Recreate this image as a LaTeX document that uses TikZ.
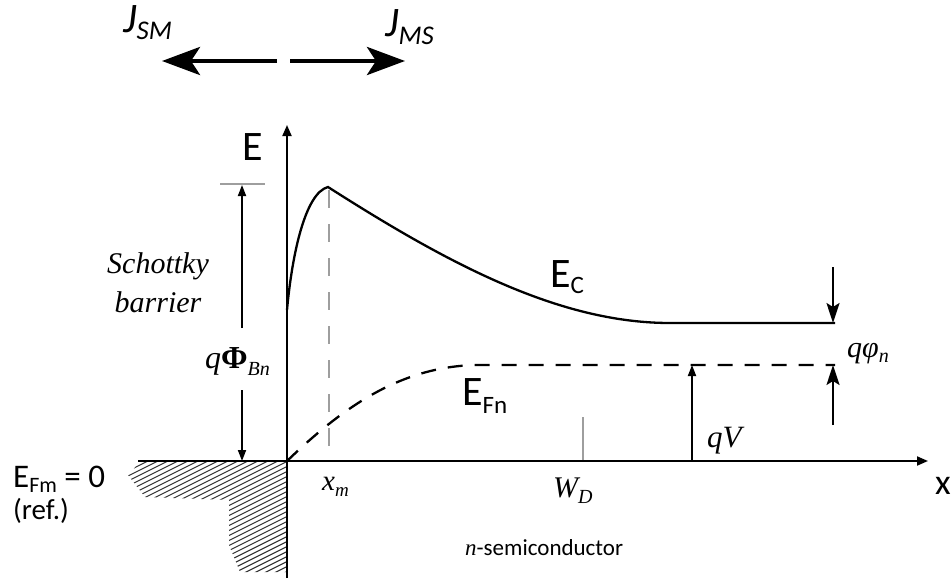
\documentclass[tikz,border=0pt]{standalone}
\usepackage{fontspec}
\setmainfont{Carlito}
\newfontfamily\tms{Liberation Serif}
\usetikzlibrary{arrows.meta}
\newcommand\fs[1]{\fontsize{#1}{#1}\selectfont}
\newcommand\dn[3]{\raisebox{-#1pt}{\fs{#2}#3}}
\begin{document}
\begin{tikzpicture}[x=1pt,y=-1pt,
  txt/.style={inner sep=0pt,anchor=base west},
  axis/.style={line width=1.9pt,-{Triangle[length=11pt,width=9pt]}},
  curve/.style={line width=2.3pt},
  fermi/.style={line width=2.3pt,dash pattern=on 15pt off 12pt},
  guide/.style={line width=1.9pt,color=black!38},
  guidedash/.style={guide,dash pattern=on 18pt off 16pt},
  marker/.style={line width=1.8pt,-{Triangle[length=11pt,width=8pt]}},
  bigmark/.style={line width=2pt,-{Stealth[length=20pt,width=13pt,inset=4pt]}},
  flux/.style={line width=4.5pt,-{Stealth[length=38pt,width=28pt,inset=9pt]}},
  hatch/.style={line width=1.1pt,color=black!80}]
\useasboundingbox (0,0) rectangle (952,578);

% metal hatching
\begin{scope}
  \clip (140,462) -- (287,462) -- (287,572) -- (240,572) -- (229,545) -- (229,500) -- (145,497) -- (128,475) -- cycle;
  \foreach \k in {0,...,55} {
    \draw[hatch] (110,{455+5*\k}) -- (300,{455+5*\k-95});
  }
\end{scope}

% coordinates
\coordinate (O) at (287,461);
\coordinate (ybot) at (287,578);
\coordinate (ytop) at (287,125);
\coordinate (xl) at (138,461);
\coordinate (xr) at (928,461);
\coordinate (ECstart) at (287,310);
\coordinate (peak) at (328,187);
\coordinate (ECflat) at (670,323);
\coordinate (ECend) at (835,323);
\coordinate (EFflat) at (480,365);
\coordinate (EFend) at (835,365);
\coordinate (tickL) at (220,184);
\coordinate (tickR) at (265,184);
\coordinate (phiTop) at (242,185);
\coordinate (phiUp) at (242,328);
\coordinate (phiDn) at (242,390);
\coordinate (phiBot) at (242,461);
\coordinate (xmTop) at (329,190);
\coordinate (xmBot) at (329,461);
\coordinate (wdTop) at (583,417);
\coordinate (wdBot) at (583,461);
\coordinate (qVbot) at (692,461);
\coordinate (qVtop) at (692,365);
\coordinate (pnA) at (833,267);
\coordinate (pnB) at (833,323);
\coordinate (pnC) at (833,425);
\coordinate (pnD) at (833,365);
\coordinate (fluxL0) at (277,61);
\coordinate (fluxL1) at (162,61);
\coordinate (fluxR0) at (290,61);
\coordinate (fluxR1) at (405,61);

% guides
\draw[guide] (tickL) -- (tickR);
\draw[guidedash] (xmTop) -- (xmBot);
\draw[guide] (wdTop) -- (wdBot);

% axes
\draw[axis] (ybot) -- (ytop);
\draw[axis] (xl) -- (xr);

% bands
\draw[curve] (ECstart) .. controls (292,255) and (305,193) .. (peak)
  .. controls (450,265) and (560,323) .. (ECflat) -- (ECend);
\draw[fermi] (O) .. controls (340,410) and (400,365) .. (EFflat) -- (EFend);

% arrows
\draw[marker] (phiUp) -- (phiTop);
\draw[marker] (phiDn) -- (phiBot);
\draw[marker] (qVbot) -- (qVtop);
\draw[bigmark] (pnA) -- (pnB);
\draw[bigmark] (pnC) -- (pnD);
\draw[flux] (fluxL0) -- (fluxL1);
\draw[flux] (fluxR0) -- (fluxR1);

% labels
\node[txt] (lJSM) at (123,33) {\fs{42}\itshape J\dn{7}{27}{SM}};
\node[txt] (lJMS) at (385,37) {\fs{42}\itshape J\dn{8}{27}{MS}};
\node[txt] (lE) at (242,160) {\fs{42}E};
\node[txt] (lEC) at (550,287) {\fs{42}E\dn{6}{25}{C}};
\node[txt] (lEFn) at (462,405) {\fs{42}E\dn{8}{25}{Fn}};
\node[txt] (lEFm) at (13,487) {\fs{33}E\dn{5}{22}{Fm} = 0};
\node[txt] (lref) at (13,519) {\fs{29}(ref.)};
\node[txt] (lx) at (935,494) {\fs{36}x};
\node[txt] (lsemi) at (465,555) {\fs{23}{\tms\itshape n}-semiconductor};
\node[inner sep=0pt,anchor=base] (lS1) at (158,273) {\tms\fs{30}\itshape Schottky};
\node[inner sep=0pt,anchor=base] (lS2) at (158,312) {\tms\fs{30}\itshape barrier};
\node[txt] (lphi) at (205,368) {\tms\fs{32}\itshape q{\bfseries\upshape Φ}\dn{7}{20}{Bn}};
\node[txt] (lxm) at (322,490) {\tms\fs{29}\itshape x\dn{6}{19}{m}};
\node[txt] (lwd) at (553,497) {\tms\fs{30}\itshape W\dn{6}{20}{D}};
\node[txt] (lqV) at (707,447) {\tms\fs{31}\itshape qV};
\node[txt] (lqphi) at (847,357) {\tms\fs{30}\itshape qφ\dn{5}{20}{n}};
\end{tikzpicture}
\end{document}
